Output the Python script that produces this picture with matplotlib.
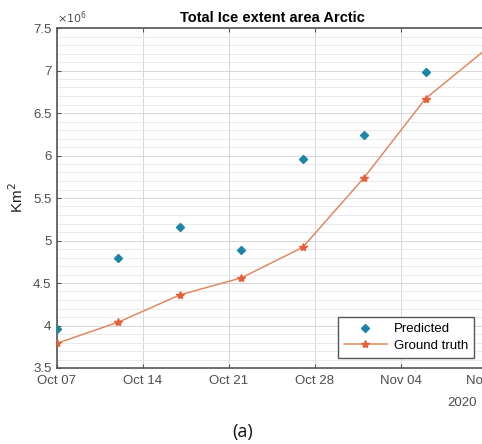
import numpy as np
import pandas as pd
import matplotlib
matplotlib.use("Agg")
import matplotlib.pyplot as plt
import matplotlib.dates as mdates
from matplotlib.ticker import MultipleLocator

plt.rcParams['font.family'] = ['Liberation Sans', 'DejaVu Sans']

# data (km^2, in units of 1e6)
dates = pd.to_datetime(['2020-10-07', '2020-10-12', '2020-10-17', '2020-10-22',
                        '2020-10-27', '2020-11-01', '2020-11-06', '2020-11-11'])
predicted = [3.96, 4.79, 5.16, 4.89, 5.96, 6.24, 6.98, np.nan]
ground_truth = [3.79, 4.04, 4.36, 4.56, 4.92, 5.74, 6.67, 7.26]
week_ticks = pd.date_range('2020-10-07', '2020-11-11', freq='7D')
y_ticks = [3.5, 4, 4.5, 5, 5.5, 6, 6.5, 7, 7.5]
y_labels = ['3.5', '4', '4.5', '5', '5.5', '6', '6.5', '7', '7.5']

fig = plt.figure(figsize=(4.82, 4.44), dpi=100)
ax = fig.add_axes([57/482, 1 - 368/444, 430/482, 340/444])

tick_col = '#4d4d4d'
ax.plot(dates, ground_truth, '-', color='#e08a62', lw=1.1,
        marker='*', ms=6, mfc='#e8603a', mec='#e8603a', label='Ground truth', zorder=3)
ax.plot(dates, predicted, 'D', color='#1b86a8', ms=4.2, label='Predicted', zorder=4)

ax.set_xlim(pd.Timestamp('2020-10-07'), pd.Timestamp('2020-11-11'))
ax.set_ylim(3.5, 7.5)
ax.set_xticks(week_ticks)
ax.xaxis.set_major_formatter(mdates.DateFormatter('%b %d'))
ax.set_yticks(y_ticks)
ax.set_yticklabels(y_labels)
ax.yaxis.set_minor_locator(MultipleLocator(0.1))

ax.grid(True, which='major', color='#d6d6d6', lw=0.7)
ax.grid(True, which='minor', axis='y', color='#e6e6e6', lw=0.6)
ax.set_axisbelow(True)

ax.tick_params(axis='both', which='major', direction='in', length=3, width=0.8,
               colors='#555555', labelcolor=tick_col, labelsize=9.5, top=True)
ax.tick_params(axis='y', which='minor', length=0)
ax.tick_params(axis='x', pad=5)
ax.tick_params(axis='y', pad=4)
for s in ax.spines.values():
    s.set_color('#555555')
    s.set_linewidth(1.2)

ax.set_ylabel('Km$^2$', fontsize=11, color='#222222', labelpad=5)
ax.set_title('Total Ice extent area Arctic', fontsize=10.5, fontweight='bold', pad=4)
ax.text(0.0, 1.006, r'$\times10^{6}$', transform=ax.transAxes, fontsize=8,
        color=tick_col, va='bottom', ha='left')

handles, labels = ax.get_legend_handles_labels()
leg = ax.legend(handles[::-1], labels[::-1], loc='lower right',
                bbox_to_anchor=(474/482, 1 - 358/444), bbox_transform=fig.transFigure,
                borderaxespad=0, fontsize=9.5, frameon=True, fancybox=False, framealpha=1,
                edgecolor='#555555', handlelength=3.3, handletextpad=0.5,
                borderpad=0.45, labelspacing=0.35)
leg.get_frame().set_linewidth(1.0)

fig.text(477/482, 1 - 403/444, '2020', fontsize=9.5, color=tick_col, ha='right', va='center')
fig.text(243/482, 1 - 432/444, '(a)', fontsize=13, color='#111111', ha='center', va='center',
         family=['Open Sans', 'DejaVu Sans'])

fig.savefig('out.png', dpi=100)
